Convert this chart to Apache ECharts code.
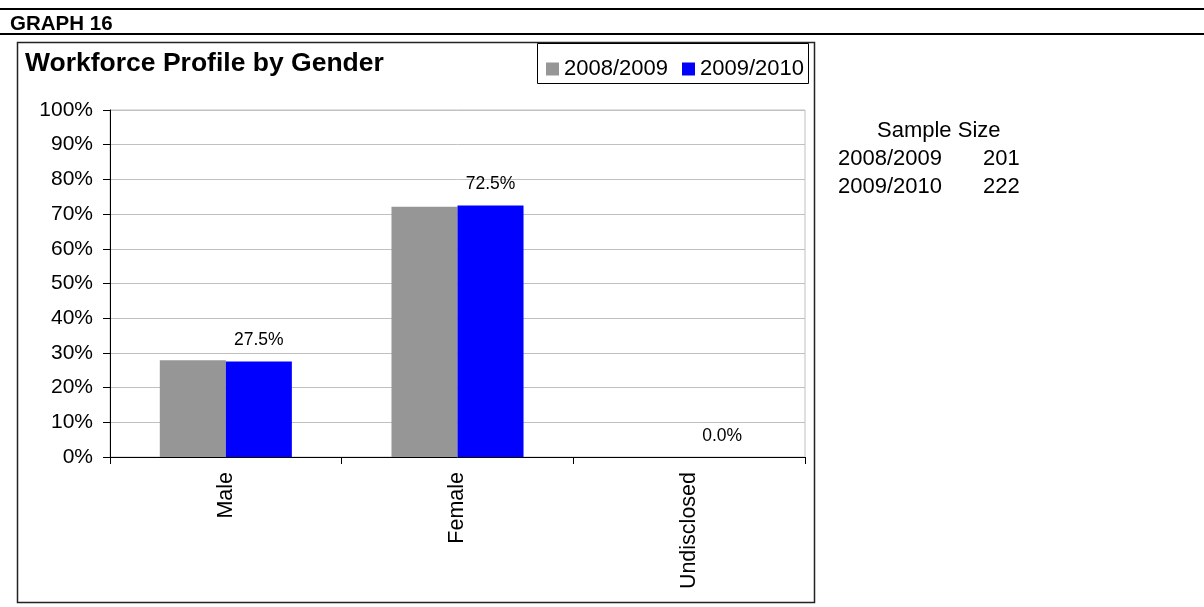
<!DOCTYPE html>
<html>
<head>
<meta charset="utf-8">
<title>Workforce Profile by Gender</title>
<script src="https://cdn.jsdelivr.net/npm/echarts@6/dist/echarts.min.js"></script>
<style>
  html, body { margin: 0; padding: 0; background: #fff; }
  #chart { width: 1204px; height: 607px; }
</style>
</head>
<body>
<div id="chart"></div>
<script>
// data
const categories = ['Male', 'Female', 'Undisclosed']
const seriesNames = ['2008/2009', '2009/2010']
const values0809 = [27.9, 72.1, 0]
const values0910 = [27.5, 72.5, 0]
const sampleSizes = [201, 222]
const colors = ['#969696', '#0000ff']

const FONT = '"Liberation Sans", Arial, sans-serif'

const chart = echarts.init(document.getElementById('chart'))
window.onresize = () => {
  chart.resize()
}

const sampleText = [
  { type: 'text', left: 877, top: 120, style: { text: 'Sample Size', font: '22px ' + FONT, fill: '#000' } }
]
seriesNames.forEach((name, i) => {
  sampleText.push({ type: 'text', left: 838, top: 148 + i * 28, style: { text: name, font: '22px ' + FONT, fill: '#000' } })
  sampleText.push({ type: 'text', left: 983, top: 148 + i * 28, style: { text: String(sampleSizes[i]), font: '22px ' + FONT, fill: '#000' } })
})

const option = {
  animation: false,
  textStyle: { fontFamily: FONT },
  title: {
    text: 'Workforce Profile by Gender',
    left: 20,
    top: 45,
    textStyle: { fontSize: 26.5, fontWeight: 'bold', color: '#000', fontFamily: FONT }
  },
  legend: {
    data: seriesNames,
    left: 541,
    top: 53,
    itemWidth: 13,
    itemHeight: 13,
    itemGap: 14,
    icon: 'rect',
    textStyle: { fontSize: 22, color: '#000', fontFamily: FONT }
  },
  grid: {
    show: true,
    left: 110,
    right: 399,
    top: 110,
    bottom: 150,
    borderColor: '#c0c0c0',
    borderWidth: 1,
    containLabel: false
  },
  xAxis: {
    type: 'category',
    data: categories,
    axisLine: { lineStyle: { color: '#000', width: 1 } },
    axisTick: { show: true, length: 7, lineStyle: { color: '#000' } },
    axisLabel: {
      rotate: 90,
      margin: 15,
      fontSize: 21.5,
      color: '#000',
      fontFamily: FONT
    }
  },
  yAxis: {
    type: 'value',
    min: 0,
    max: 100,
    interval: 10,
    axisLine: { show: true, lineStyle: { color: '#000', width: 1 } },
    axisTick: { show: true, length: 7, lineStyle: { color: '#000' } },
    axisLabel: {
      formatter: '{value}%',
      fontSize: 21,
      margin: 17,
      color: '#000',
      fontFamily: FONT
    },
    splitLine: { lineStyle: { color: '#c0c0c0', width: 1 } }
  },
  series: [
    {
      name: seriesNames[0],
      type: 'bar',
      data: values0809,
      barWidth: '28.5%',
      barGap: '0%',
      itemStyle: { color: colors[0] }
    },
    {
      name: seriesNames[1],
      type: 'bar',
      data: values0910,
      barWidth: '28.5%',
      barGap: '0%',
      itemStyle: { color: colors[1] },
      label: {
        show: true,
        position: 'top',
        distance: 12,
        fontSize: 17.5,
        color: '#000',
        fontFamily: FONT,
        formatter: function (p) {
          return p.value.toFixed(1) + '%'
        }
      }
    }
  ],
  graphic: [
    // page rules and caption
    { type: 'rect', shape: { x: 0, y: 8, width: 1204, height: 2 }, style: { fill: '#000' } },
    { type: 'rect', shape: { x: 0, y: 33, width: 1204, height: 2 }, style: { fill: '#000' } },
    { type: 'text', left: 10, top: 14, style: { text: 'GRAPH 16', font: 'bold 20.5px ' + FONT, fill: '#000' } },
    // chart frame
    { type: 'rect', z: -1, shape: { x: 17.5, y: 42.5, width: 797, height: 560 }, style: { fill: 'none', stroke: '#222', lineWidth: 1.5 } },
    // legend frame
    { type: 'rect', shape: { x: 537.5, y: 43.5, width: 271, height: 40 }, style: { fill: 'none', stroke: '#000', lineWidth: 1 } }
  ].concat(sampleText)
}

chart.setOption(option)
</script>
</body>
</html>
